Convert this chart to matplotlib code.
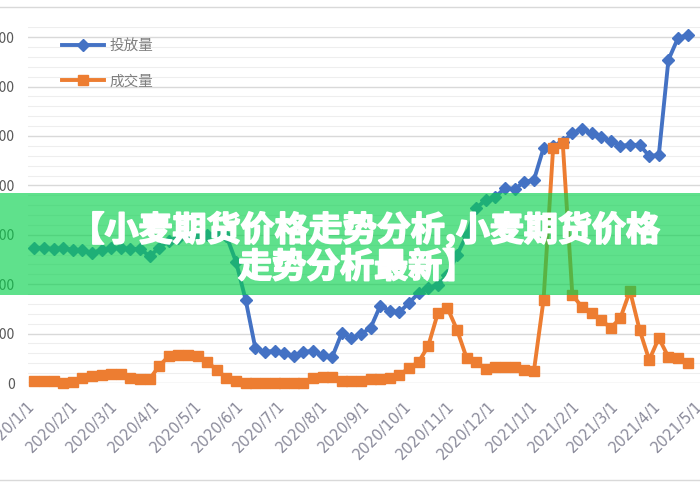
import matplotlib.pyplot as plt
import matplotlib.patheffects as pe
from matplotlib.patches import Rectangle
from matplotlib.lines import Line2D
import pandas as pd
import numpy as np

plt.rcParams['font.family'] = ['Noto Sans CJK SC', 'DejaVu Sans']

# weekly observations
dates = pd.date_range('2020-01-02', periods=69, freq='7D')

# 投放量
supply = [547, 547, 543, 547, 539, 539, 526, 539, 547, 547,
          543, 543, 514, 547, 575, 587, 595, 599, 599, 607,
          595, 490, 336, 142, 126, 130, 121, 109, 126, 130,
          113, 105, 202, 182, 198, 223, 312, 292, 287, 324,
          364, 385, 397, 437, 518, 599, 709, 741, 753, 790,
          785, 814, 822, 951, 960, 976, 1012, 1028, 1012, 996,
          980, 960, 964, 964, 919, 923, 1308, 1397, 1409]

# 成交量
deals = [8, 8, 8, 0, 4, 20, 28, 32, 36, 36,
         20, 16, 16, 69, 109, 113, 113, 109, 85, 53,
         20, 8, 2, 2, 2, 2, 2, 2, 2, 20,
         24, 24, 8, 8, 8, 16, 16, 20, 32, 61,
         85, 150, 283, 304, 215, 101, 85, 57, 65, 65,
         65, 53, 49, 336, 952, 972, 356, 308, 283, 255,
         223, 263, 373, 215, 93, 182, 105, 101, 81]

tick_labels = ['2020/1/1', '2020/2/1', '2020/3/1', '2020/4/1', '2020/5/1',
               '2020/6/1', '2020/7/1', '2020/8/1', '2020/9/1', '2020/10/1',
               '2020/11/1', '2020/12/1', '2021/1/1', '2021/2/1', '2021/3/1',
               '2021/4/1', '2021/5/1']
yticks = [0, 200, 400, 600, 800, 1000, 1200, 1400]

title = '【小麦期货价格走势分析,小麦期货价格'
title2 = '走势分析最新】'

W, H = 700, 490
fig = plt.figure(figsize=(7, 4.9), dpi=100)
ax = fig.add_axes([28 / W, (H - 383) / H, 1 - 28 / W, 355.7 / H])

ax.plot(dates, supply, color='#4472C4', lw=2.8, marker='D', ms=6,
        label='投放量', clip_on=False, zorder=3)
ax.plot(dates, deals, color='#ED7D31', lw=2.8, marker='s', ms=6.5,
        label='成交量', clip_on=False, zorder=3)

x0 = pd.Timestamp('2020-01-01') - pd.Timedelta(days=3.6)
ax.set_xlim(x0, x0 + pd.Timedelta(days=672 / 1.39))
ax.set_ylim(0, 1440)

ax.set_yticks(yticks)
ax.set_yticklabels([str(v) for v in yticks])
ax.set_yticks(np.arange(0, 1441, 40), minor=True)
ax.grid(axis='y', which='major', color='#d9d9d9', lw=1)
ax.grid(axis='y', which='minor', color='#eeeeee', lw=0.8)
ax.set_axisbelow(True)

ax.set_xticks(pd.to_datetime(tick_labels, format='%Y/%m/%d'))
ax.set_xticklabels(tick_labels, rotation=45, ha='right', va='center',
                   rotation_mode='anchor', color='#8a8a9a', fontsize=10.5,
                   family='DejaVu Sans')
ax.tick_params(axis='x', length=0, pad=15)
ax.tick_params(axis='y', which='both', length=0, pad=9.4,
               labelcolor='#595959', labelsize=10)
for s in ax.spines.values():
    s.set_visible(False)

fig.legend(loc='upper left', bbox_to_anchor=(62 / W, 1 - 39 / H),
           frameon=False, fontsize=10.5, labelspacing=1.45,
           handlelength=2.9, handletextpad=0.35, borderpad=0,
           borderaxespad=0, labelcolor='#7f7f7f')

# chart frame lines
for yy in (7, 480):
    fig.add_artist(Line2D([0, 1], [1 - yy / H, 1 - yy / H],
                          color='#d9d9d9', lw=1))

# green banner
fig.add_artist(Rectangle((0, (H - 295) / H), 1, 102 / H,
                         transform=fig.transFigure, facecolor='#0ad14e',
                         alpha=0.65, edgecolor='none', zorder=5))
bold = [pe.withStroke(linewidth=1.3, foreground='white')]
fig.text(365 / W, 1 - 230 / H, title, ha='center', va='center',
         color='white', fontsize=24.5, fontweight='bold', zorder=6,
         path_effects=bold)
fig.text(357 / W, 1 - 267 / H, title2, ha='center', va='center',
         color='white', fontsize=24.5, fontweight='bold', zorder=6,
         path_effects=bold)

fig.savefig('out.png', dpi=100)
